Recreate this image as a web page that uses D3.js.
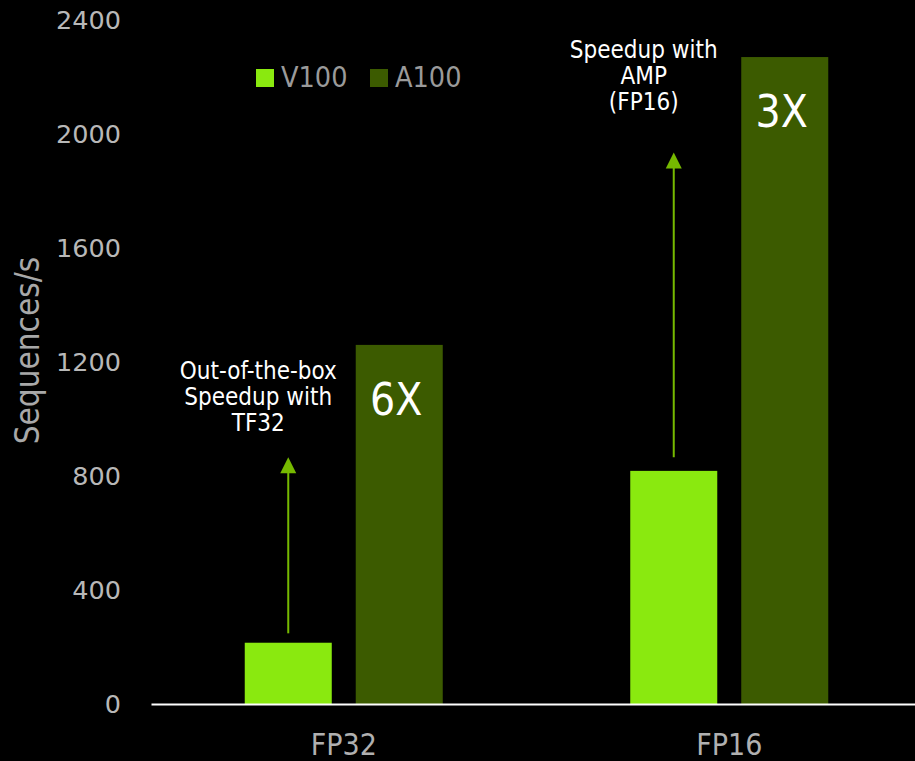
<!DOCTYPE html>
<html>
<head>
<meta charset="utf-8">
<script src="https://cdn.jsdelivr.net/npm/d3@7"></script>
<style>
  html, body { margin: 0; padding: 0; background: #000; }
  svg { display: block; }
</style>
</head>
<body>
<svg id="chart" width="915" height="761"></svg>
<script>
// data
const categories = ["FP32", "FP16"]
const series = ["V100", "A100"]
const v100Values = [215, 818]
const a100Values = [1260, 2270]
const speedupLabels = ["6X", "3X"]
const yTicks = [0, 400, 800, 1200, 1600, 2000, 2400]

// annotation arrows, in data units (from -> to), and their captions
const arrowFrom = [248, 866]
const arrowTo = [866, 1935]
const noteLines = [
  ["Out-of-the-box", "Speedup with", "TF32"],
  ["Speedup with", "AMP", "(FP16)"]
]
const noteValue = [1140, 2267]

const colors = { V100: "#8ae90f", A100: "#3c5b00" }
const arrowColor = "#76b900"
const condensed = "'DejaVu Sans Condensed', 'DejaVu Sans', sans-serif"

const W = 915, H = 761
const svg = d3.select("#chart")
svg.append("rect").attr("width", W).attr("height", H).attr("fill", "#000")

const y = d3.scaleLinear().domain([0, 2400]).range([704, 20])
const x0 = d3.scaleBand().domain(categories).range([151, 922])
const groupW = 198
const x1 = d3.scaleBand().domain(series).range([0, groupW]).paddingInner(0.216)

const rows = categories.map((c, i) => ({
  cat: c,
  V100: v100Values[i],
  A100: a100Values[i],
  label: speedupLabels[i]
}))

// y axis, labels only
const yAxis = svg.append("g")
  .attr("transform", "translate(128,0)")
  .call(d3.axisLeft(y).tickValues(yTicks).tickSize(0).tickPadding(7).tickFormat(d3.format("d")))
yAxis.select(".domain").remove()
yAxis.selectAll("text")
  .attr("fill", "#b8b8b8")
  .style("font-family", "'DejaVu Sans', sans-serif")
  .style("font-size", "25.5px")

svg.append("text")
  .attr("transform", `translate(39,${y(1240)}) rotate(-90)`)
  .attr("text-anchor", "middle")
  .attr("fill", "#a8a8a8")
  .style("font-family", condensed)
  .style("font-size", "33px")
  .text("Sequences/s")

// bars
const groups = svg.append("g").selectAll("g")
  .data(rows)
  .join("g")
  .attr("transform", d => `translate(${x0(d.cat) + (x0.bandwidth() - groupW) / 2},0)`)

groups.selectAll("rect")
  .data(d => series.map(s => ({ s, v: d[s] })))
  .join("rect")
  .attr("x", d => x1(d.s))
  .attr("y", d => y(d.v))
  .attr("width", x1.bandwidth())
  .attr("height", d => y(0) - y(d.v))
  .attr("fill", d => colors[d.s])

groups.append("text")
  .attr("x", x1("A100") + x1.bandwidth() / 2 - 3)
  .attr("y", d => y(d.A100) + 70)
  .attr("text-anchor", "middle")
  .attr("fill", "#fff")
  .style("font-family", condensed)
  .style("font-size", "44px")
  .text(d => d.label)

// arrows + notes
const arrows = svg.append("g")
rows.forEach((d, i) => {
  const cx = x0(d.cat) + (x0.bandwidth() - groupW) / 2 + x1("V100") + x1.bandwidth() / 2
  const yTop = y(arrowTo[i])
  arrows.append("line")
    .attr("x1", cx).attr("x2", cx)
    .attr("y1", y(arrowFrom[i])).attr("y2", yTop + 14)
    .attr("stroke", arrowColor)
    .attr("stroke-width", 2)
  arrows.append("path")
    .attr("d", `M${cx},${yTop} L${cx - 8},${yTop + 16} L${cx + 8},${yTop + 16} Z`)
    .attr("fill", arrowColor)

  const t = arrows.append("text")
    .attr("x", cx - 30)
    .attr("y", y(noteValue[i]))
    .attr("text-anchor", "middle")
    .attr("fill", "#fff")
    .style("font-family", condensed)
    .style("font-size", "24px")
  t.selectAll("tspan")
    .data(noteLines[i])
    .join("tspan")
    .attr("x", cx - 30)
    .attr("dy", (l, k) => (k === 0 ? 0 : 26))
    .text(l => l)
})

// x axis baseline and category labels
const xAxis = svg.append("g")
  .attr("transform", `translate(0,${y(0)})`)
  .call(d3.axisBottom(x0).tickSize(0).tickSizeOuter(0))
xAxis.select(".domain").attr("stroke", "#fff").attr("stroke-width", 2)
xAxis.selectAll("text")
  .attr("y", 40)
  .attr("dy", "0.35em")
  .attr("fill", "#b0b0b0")
  .style("font-family", condensed)
  .style("font-size", "30px")

// legend
const legend = svg.append("g").attr("transform", "translate(256,69)")
const items = legend.selectAll("g")
  .data(series)
  .join("g")
  .attr("transform", (d, i) => `translate(${i * 114},0)`)
items.append("rect")
  .attr("width", 18).attr("height", 18)
  .attr("fill", d => colors[d])
items.append("text")
  .attr("x", 25)
  .attr("y", 18)
  .attr("fill", "#9a9a9a")
  .style("font-family", condensed)
  .style("font-size", "28.5px")
  .text(d => d)
</script>
</body>
</html>
